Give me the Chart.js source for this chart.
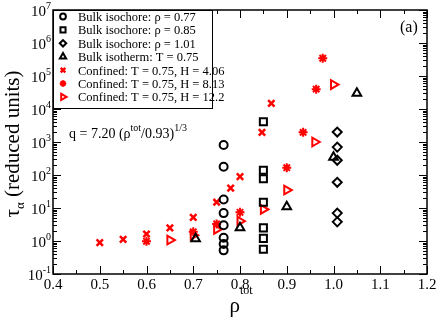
<!DOCTYPE html>
<html>
<head>
<meta charset="utf-8">
<script src="https://cdn.jsdelivr.net/npm/chart.js@4.4.1/dist/chart.umd.min.js"></script>
<style>
  html, body { margin: 0; padding: 0; background: #fff; }
  #fontprobe { position: absolute; left: -999px; top: 0; font-family: "Liberation Serif", "Times New Roman", serif; font-size: 15px; }
</style>
</head>
<body>
<canvas id="myChart" width="436" height="317"></canvas>
<span id="fontprobe">10 0.4 &#961; &#964;&#945; Bulk</span>
<script>
// tau_alpha (reduced units) against total density
const iso077X = [0.765, 0.765, 0.765, 0.765, 0.765, 0.765, 0.765, 0.765];
const iso077Tau = [810, 178, 18, 7.0, 3.0, 1.26, 0.81, 0.52];

const iso085X = [0.85, 0.85, 0.85, 0.85, 0.85, 0.85, 0.85];
const iso085Tau = [4100, 140, 77, 15, 2.5, 1.2, 0.56];

const iso101X = [1.008, 1.008, 1.008, 1.008, 1.008, 1.008];
const iso101Tau = [2000, 700, 280, 60, 7.0, 3.8];

const isothermX = [0.705, 0.8, 0.9, 1.0, 1.05];
const isothermTau = [1.17, 2.5, 11, 345, 30000];

const conf406X = [0.5, 0.55, 0.6, 0.65, 0.7, 0.75, 0.78, 0.8, 0.847, 0.867];
const conf406Tau = [0.89, 1.12, 1.63, 2.5, 5.2, 15, 40, 89, 1960, 14800];

const conf813X = [0.6, 0.7, 0.75, 0.8, 0.9, 0.935, 0.963, 0.977];
const conf813Tau = [0.98, 1.9, 3.3, 7.4, 167, 1960, 40000, 345000];

const conf122X = [0.65, 0.7, 0.75, 0.8, 0.85, 0.9, 0.96, 1.0];
const conf122Tau = [1.07, 1.5, 2.26, 4.0, 9.1, 35, 1000, 55000];

const xTickVals = [0.4, 0.5, 0.6, 0.7, 0.8, 0.9, 1.0, 1.1, 1.2];
const xTickLabels = ['0.4', '0.5', '0.6', '0.7', '0.8', '0.9', '1.0', '1.1', '1.2'];
const yExponents = [-1, 0, 1, 2, 3, 4, 5, 6, 7];

const legendLabels = [
  'Bulk isochore: \u03c1 = 0.77',
  'Bulk isochore: \u03c1 = 0.85',
  'Bulk isochore: \u03c1 = 1.01',
  'Bulk isotherm: T = 0.75',
  'Confined: T = 0.75, H = 4.06',
  'Confined: T = 0.75, H = 8.13',
  'Confined: T = 0.75, H = 12.2'
];

const SERIF = '"Liberation Serif", "Times New Roman", serif';
const RED = '#ff0000';

function pts(xs, ys) {
  return xs.map((x, i) => ({ x: x, y: ys[i] }));
}

function series(label, xs, ys, style, color, radius, width, rotation) {
  return {
    label: label,
    data: pts(xs, ys),
    pointStyle: style,
    pointRadius: radius,
    pointHoverRadius: radius,
    pointBorderWidth: width,
    pointBorderColor: color,
    pointBackgroundColor: 'rgba(0,0,0,0)',
    pointRotation: rotation || 0
  };
}

const datasets = [
  series(legendLabels[0], iso077X, iso077Tau, 'circle', '#000', 4, 2),
  series(legendLabels[1], iso085X, iso085Tau, 'rect', '#000', 5, 2),
  series(legendLabels[2], iso101X, iso101Tau, 'rectRot', '#000', 4.5, 2),
  series(legendLabels[3], isothermX, isothermTau, 'triangle', '#000', 5, 2),
  series(legendLabels[4], conf406X, conf406Tau, 'crossRot', RED, 4.5, 2.5),
  series(legendLabels[5], conf813X, conf813Tau, 'star', RED, 4.5, 2),
  series(legendLabels[6], conf122X, conf122Tau, 'triangle', RED, 5, 2, 90)
];

// draw text pieces left to right: [text, size, dy]
function runs(ctx, x, y, parts) {
  parts.forEach(p => {
    ctx.font = p[1] + 'px ' + SERIF;
    ctx.fillText(p[0], x, y + p[2]);
    x += ctx.measureText(p[0]).width;
  });
  return x;
}

function runsWidth(ctx, parts) {
  let w = 0;
  parts.forEach(p => {
    ctx.font = p[1] + 'px ' + SERIF;
    w += ctx.measureText(p[0]).width;
  });
  return w;
}

const framePlugin = {
  id: 'frame',
  afterDraw(chart) {
    const { ctx, chartArea: a, scales } = chart;
    const xs = scales.x, ys = scales.y;
    ctx.save();
    ctx.strokeStyle = '#000';
    ctx.fillStyle = '#000';

    function seg(x1, y1, x2, y2) {
      ctx.beginPath();
      ctx.moveTo(x1, y1);
      ctx.lineTo(x2, y2);
      ctx.stroke();
    }

    // ticks on all four sides, pointing inwards
    ctx.lineWidth = 1;
    for (let i = 0; i <= 16; i++) {
      const px = Math.round(xs.getPixelForValue(0.4 + i * 0.05)) + 0.5;
      const len = i % 2 ? 4 : 8;
      seg(px, a.bottom, px, a.bottom - len);
      seg(px, a.top, px, a.top + len);
    }
    for (let e = -1; e <= 7; e++) {
      for (let m = 1; m < 10; m++) {
        if (e === 7 && m > 1) break;
        const py = Math.round(ys.getPixelForValue(m * Math.pow(10, e))) + 0.5;
        const len = m === 1 ? 8 : 4;
        seg(a.left, py, a.left + len, py);
        seg(a.right, py, a.right - len, py);
      }
    }

    ctx.lineWidth = 1.5;
    ctx.strokeRect(a.left, a.top, a.right - a.left, a.bottom - a.top);

    // x tick labels
    ctx.font = '15px ' + SERIF;
    ctx.textAlign = 'center';
    ctx.textBaseline = 'alphabetic';
    xTickVals.forEach((v, i) => {
      ctx.fillText(xTickLabels[i], xs.getPixelForValue(v), a.bottom + 15);
    });

    // y tick labels 10^n
    ctx.textAlign = 'left';
    yExponents.forEach(e => {
      const py = ys.getPixelForValue(Math.pow(10, e));
      const parts = [['10', 15, 6], [String(e), 10, -1]];
      const w = runsWidth(ctx, parts);
      runs(ctx, a.left - 2 - w, py, parts);
    });

    // axis titles
    const xt = [['\u03c1', 21, 0], ['tot', 12, -18]];
    const xw = runsWidth(ctx, xt);
    runs(ctx, 241 - xw / 2, 312, xt);

    const yt = [['\u03c4', 21, 0], ['\u03b1', 13, 5], [' (reduced units)', 21, 0]];
    const yw = runsWidth(ctx, yt);
    ctx.save();
    ctx.translate(19, 144);
    ctx.rotate(-Math.PI / 2);
    runs(ctx, -yw / 2, 0, yt);
    ctx.restore();

    // annotations
    runs(ctx, 69, 138, [['q = 7.20 (\u03c1', 14, 0], ['tot', 10, -7], ['/0.93)', 14, 0], ['1/3', 10, -7]]);
    runs(ctx, 400, 32, [['(a)', 16, 0]]);

    // legend box
    const lx = a.left, ly = a.top, lw = 159, lh = 98;
    ctx.fillStyle = '#fff';
    ctx.fillRect(lx, ly, lw, lh);
    ctx.lineWidth = 1;
    ctx.strokeRect(lx + 0.5, ly + 0.5, lw, lh);
    chart.data.datasets.forEach((ds, i) => {
      const cy = ly + 6.5 + i * 13.4;
      ctx.strokeStyle = ds.pointBorderColor;
      ctx.fillStyle = 'rgba(0,0,0,0)';
      ctx.lineWidth = ds.pointBorderWidth;
      Chart.helpers.drawPoint(ctx, {
        pointStyle: ds.pointStyle,
        radius: ds.pointRadius * 0.72,
        rotation: ds.pointRotation,
        borderWidth: ds.pointBorderWidth
      }, 63, cy);
      ctx.fillStyle = '#000';
      runs(ctx, 78, cy + 4.5, [[ds.label, 12.5, 0]]);
    });
    ctx.restore();
  }
};

function drawChart() {
  new Chart(document.getElementById('myChart'), {
    type: 'scatter',
    data: { datasets: datasets },
    options: {
      responsive: false,
      animation: false,
      layout: { padding: { left: 53, top: 10, right: 9, bottom: 43 } },
      plugins: {
        legend: { display: false },
        tooltip: { enabled: false }
      },
      scales: {
        x: {
          type: 'linear',
          min: 0.4,
          max: 1.2,
          ticks: { display: false },
          grid: { display: false },
          border: { display: false },
          afterFit(s) { s.height = 0; }
        },
        y: {
          type: 'logarithmic',
          min: 0.1,
          max: 1e7,
          ticks: { display: false },
          grid: { display: false },
          border: { display: false },
          afterFit(s) { s.width = 0; }
        }
      }
    },
    plugins: [framePlugin]
  });
}

document.fonts.load('15px "Liberation Serif"').then(drawChart, drawChart);
</script>
</body>
</html>
